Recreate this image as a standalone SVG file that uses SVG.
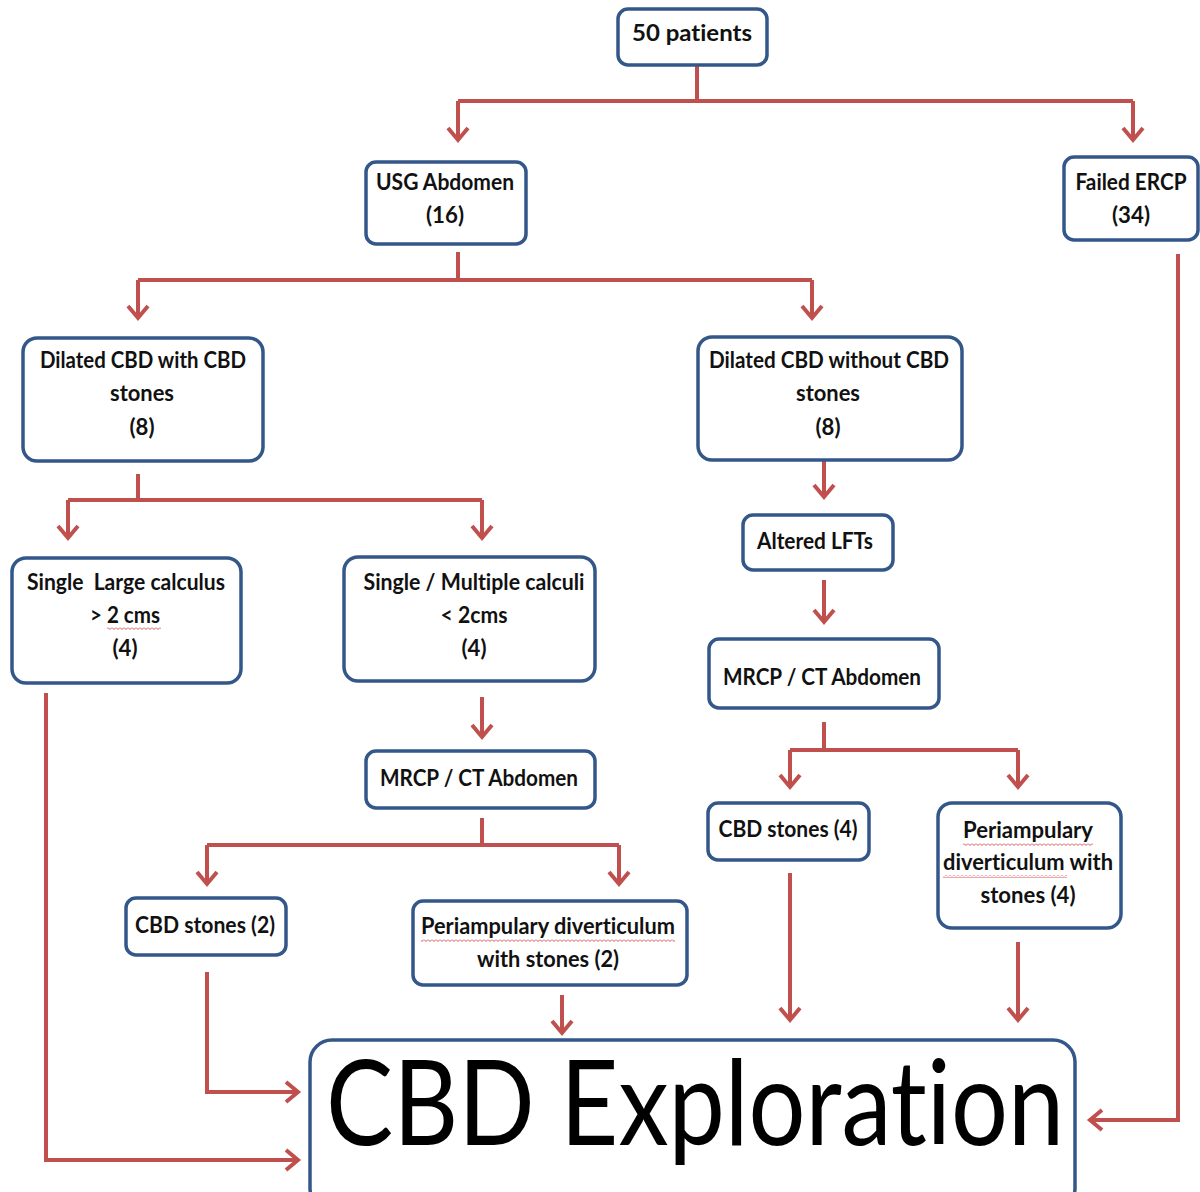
<svg xmlns="http://www.w3.org/2000/svg" width="1200" height="1192" viewBox="0 0 1200 1192">
<style>
.box{fill:#fff;stroke:#34578A;stroke-width:3.5}
.t{font-family:Lato,"Liberation Sans",sans-serif;font-weight:bold;font-size:23px;fill:#111;text-anchor:middle;font-variant-ligatures:none}
.big{font-family:Lato,"Liberation Sans",sans-serif;font-weight:normal;font-size:118px;fill:#000;text-anchor:middle;font-variant-ligatures:none}
.c{fill:none;stroke:#C0504D;stroke-width:4;marker-end:url(#ah)}
.l{fill:none;stroke:#C0504D;stroke-width:4}
.sp{fill:url(#wave)}
</style>
<defs>
<marker id="ah" markerUnits="userSpaceOnUse" markerWidth="24" markerHeight="24" refX="15" refY="12" orient="auto" viewBox="0 0 24 24">
<path d="M3,2 L15,12 L3,22" fill="none" stroke="#C0504D" stroke-width="4"/>
</marker>
<pattern id="wave" patternUnits="userSpaceOnUse" width="4" height="3">
<path d="M0,0.5 L2,2.5 L4,0.5" fill="none" stroke="#D04040" stroke-width="0.9"/>
</pattern>
</defs>
<rect width="1200" height="1192" fill="#fff"/>
<g id="connectors">
<path class="l" d="M697,65 V101 M458,101 H1133"/>
<path class="c" d="M458,101 V140"/>
<path class="c" d="M1133,101 V140"/>
<path class="l" d="M458,252 V280 M138,280 H812"/>
<path class="c" d="M138,280 V318"/>
<path class="c" d="M812,280 V318"/>
<path class="l" d="M138,474 V500 M68,500 H482"/>
<path class="c" d="M68,500 V538"/>
<path class="c" d="M482,500 V538"/>
<path class="c" d="M824,460 V497"/>
<path class="c" d="M824,580 V622"/>
<path class="l" d="M824,722 V750 M790,750 H1018"/>
<path class="c" d="M790,750 V787"/>
<path class="c" d="M1018,750 V787"/>
<path class="c" d="M482,697 V737"/>
<path class="l" d="M482,818 V845 M207,845 H619"/>
<path class="c" d="M207,845 V884"/>
<path class="c" d="M619,845 V884"/>
<path class="c" d="M46,693 V1160 H298"/>
<path class="c" d="M207,972 V1092 H298"/>
<path class="c" d="M562,995 V1033"/>
<path class="c" d="M790,873 V1020"/>
<path class="c" d="M1018,942 V1020"/>
<path class="c" d="M1178,254 V1120 H1090"/>
</g>
<g id="n50">
<rect class="box" x="618" y="9" width="149" height="56" rx="10"/>
<text class="t" x="692" y="41" textLength="120" lengthAdjust="spacingAndGlyphs">50 patients</text>
</g>
<g id="usg">
<rect class="box" x="366" y="162" width="160" height="82" rx="10"/>
<text class="t" x="445" y="190" textLength="138" lengthAdjust="spacingAndGlyphs">USG Abdomen</text>
<text class="t" x="445" y="223" textLength="38" lengthAdjust="spacingAndGlyphs">(16)</text>
</g>
<g id="ercp">
<rect class="box" x="1064" y="157" width="134" height="83" rx="10"/>
<text class="t" x="1131" y="190" textLength="111" lengthAdjust="spacingAndGlyphs">Failed ERCP</text>
<text class="t" x="1131" y="223" textLength="38" lengthAdjust="spacingAndGlyphs">(34)</text>
</g>
<g id="dilwith">
<rect class="box" x="23" y="338" width="240" height="123" rx="14"/>
<text class="t" x="143" y="368" textLength="206" lengthAdjust="spacingAndGlyphs">Dilated CBD with CBD</text>
<text class="t" x="142" y="401" textLength="64" lengthAdjust="spacingAndGlyphs">stones</text>
<text class="t" x="142" y="435" textLength="25" lengthAdjust="spacingAndGlyphs">(8)</text>
</g>
<g id="dilwithout">
<rect class="box" x="698" y="337" width="264" height="123" rx="14"/>
<text class="t" x="829" y="368" textLength="240" lengthAdjust="spacingAndGlyphs">Dilated CBD without CBD</text>
<text class="t" x="828" y="401" textLength="64" lengthAdjust="spacingAndGlyphs">stones</text>
<text class="t" x="828" y="435" textLength="25" lengthAdjust="spacingAndGlyphs">(8)</text>
</g>
<g id="lfts">
<rect class="box" x="743" y="515" width="150" height="55" rx="10"/>
<text class="t" x="815" y="549" textLength="116" lengthAdjust="spacingAndGlyphs">Altered LFTs</text>
</g>
<g id="large">
<rect class="box" x="12" y="558" width="229" height="125" rx="14"/>
<text class="t" x="126" y="590" textLength="198" lengthAdjust="spacingAndGlyphs" xml:space="preserve">Single  Large calculus</text>
<text class="t" x="125" y="623" textLength="70" lengthAdjust="spacingAndGlyphs">&gt; 2 cms</text>
<rect class="sp" x="107" y="627" width="54" height="3"/>
<text class="t" x="125" y="656" textLength="25" lengthAdjust="spacingAndGlyphs">(4)</text>
</g>
<g id="multi">
<rect class="box" x="344" y="557" width="251" height="124" rx="14"/>
<text class="t" x="474" y="590" textLength="221" lengthAdjust="spacingAndGlyphs">Single / Multiple calculi</text>
<text class="t" x="474" y="623" textLength="67" lengthAdjust="spacingAndGlyphs">&lt; 2cms</text>
<text class="t" x="474" y="656" textLength="25" lengthAdjust="spacingAndGlyphs">(4)</text>
</g>
<g id="mrcp2">
<rect class="box" x="709" y="639" width="230" height="69" rx="10"/>
<text class="t" x="822" y="685" textLength="198" lengthAdjust="spacingAndGlyphs">MRCP / CT Abdomen</text>
</g>
<g id="mrcp1">
<rect class="box" x="366" y="751" width="229" height="57" rx="10"/>
<text class="t" x="479" y="786" textLength="198" lengthAdjust="spacingAndGlyphs">MRCP / CT Abdomen</text>
</g>
<g id="cbd4">
<rect class="box" x="708" y="803" width="161" height="57" rx="10"/>
<text class="t" x="788" y="837" textLength="139" lengthAdjust="spacingAndGlyphs">CBD stones (4)</text>
</g>
<g id="peri4">
<rect class="box" x="938" y="803" width="183" height="125" rx="14"/>
<text class="t" x="1028" y="838" textLength="130" lengthAdjust="spacingAndGlyphs">Periampulary</text>
<rect class="sp" x="963" y="843" width="130" height="3"/>
<text class="t" x="1028" y="870" textLength="170" lengthAdjust="spacingAndGlyphs">diverticulum with</text>
<rect class="sp" x="943" y="875" width="124" height="3"/>
<text class="t" x="1028" y="903" textLength="95" lengthAdjust="spacingAndGlyphs">stones (4)</text>
</g>
<g id="cbd2">
<rect class="box" x="126" y="898" width="160" height="57" rx="10"/>
<text class="t" x="205" y="933" textLength="140" lengthAdjust="spacingAndGlyphs">CBD stones (2)</text>
</g>
<g id="peri2">
<rect class="box" x="413" y="901" width="274" height="84" rx="10"/>
<text class="t" x="548" y="934" textLength="254" lengthAdjust="spacingAndGlyphs">Periampulary diverticulum</text>
<rect class="sp" x="421" y="939" width="254" height="3"/>
<text class="t" x="548" y="967" textLength="142" lengthAdjust="spacingAndGlyphs">with stones (2)</text>
</g>
<g id="explore">
<rect class="box" x="310" y="1040" width="765" height="170" rx="22"/>
<text class="big" x="695" y="1145" textLength="738" lengthAdjust="spacingAndGlyphs">CBD Exploration</text>
</g>
</svg>
